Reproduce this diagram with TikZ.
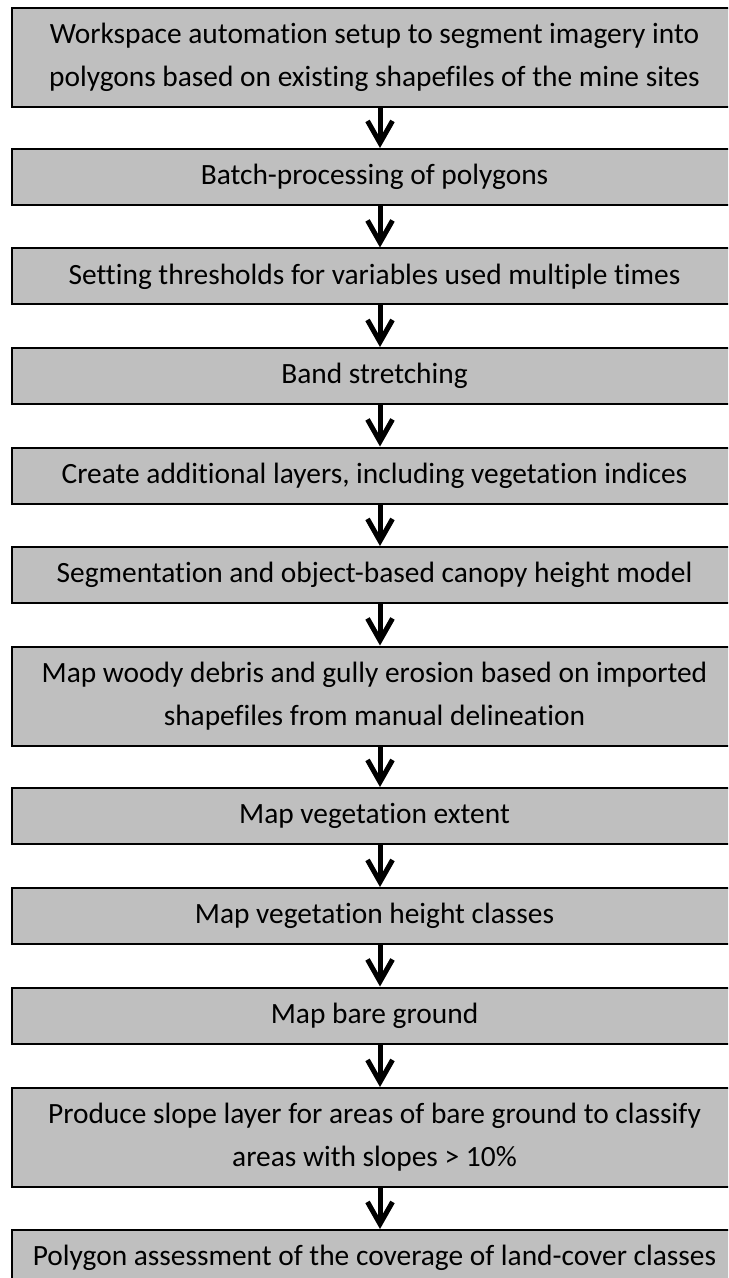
\documentclass[tikz,border=0pt]{standalone}
\usepackage{fontspec}
\setmainfont{Carlito}[Ligatures=NoCommon]
\usetikzlibrary{arrows.meta}
\begin{document}
\begin{tikzpicture}[x=0.5pt,y=-0.5pt]
    \tikzset{stepbox/.style = {draw, fill=black!25, line width=1pt, minimum width=362.5pt, minimum height=28pt, inner sep=0pt, align=center, font=\fontsize{14.7}{21.5}\selectfont}}
    \tikzset{tallbox/.style = {stepbox, minimum height=49.5pt}}
    \tikzset{flow/.style = {-{Straight Barb[length=11pt,width=12.5pt]}, line width=2.5pt}}
    \useasboundingbox (0,0) rectangle (728,1278);
    \clip (0,0) rectangle (728,1278);
    \node[tallbox] (setup) at (374.5,57.5) {Workspace automation setup to segment imagery into\\polygons based on existing shapefiles of the mine sites};
    \node[stepbox] (batch) at (374.5,177) {Batch-processing of polygons};
    \node[stepbox] (thresh) at (374.5,276.5) {Setting thresholds for variables used multiple times};
    \node[stepbox] (stretch) at (374.5,376) {Band stretching};
    \node[stepbox] (layers) at (374.5,475.5) {Create additional layers, including vegetation indices};
    \node[stepbox] (segm) at (374.5,575) {Segmentation and object-based canopy height model};
    \node[tallbox] (debris) at (374.5,696) {Map woody debris and gully erosion based on imported\\shapefiles from manual delineation};
    \node[stepbox] (extent) at (374.5,816) {Map vegetation extent};
    \node[stepbox] (height) at (374.5,916) {Map vegetation height classes};
    \node[stepbox] (bare) at (374.5,1015.5) {Map bare ground};
    \node[tallbox] (slope) at (374.5,1137.5) {Produce slope layer for areas of bare ground to classify\\areas with slopes > 10\%};
    \node[stepbox] (assess) at (374.5,1258) {Polygon assessment of the coverage of land-cover classes};
    \draw[flow] ([xshift=2.75pt]setup.south) -- ([xshift=2.75pt]batch.north);
    \draw[flow] ([xshift=2.75pt]batch.south) -- ([xshift=2.75pt]thresh.north);
    \draw[flow] ([xshift=2.75pt]thresh.south) -- ([xshift=2.75pt]stretch.north);
    \draw[flow] ([xshift=2.75pt]stretch.south) -- ([xshift=2.75pt]layers.north);
    \draw[flow] ([xshift=2.75pt]layers.south) -- ([xshift=2.75pt]segm.north);
    \draw[flow] ([xshift=2.75pt]segm.south) -- ([xshift=2.75pt]debris.north);
    \draw[flow] ([xshift=2.75pt]debris.south) -- ([xshift=2.75pt]extent.north);
    \draw[flow] ([xshift=2.75pt]extent.south) -- ([xshift=2.75pt]height.north);
    \draw[flow] ([xshift=2.75pt]height.south) -- ([xshift=2.75pt]bare.north);
    \draw[flow] ([xshift=2.75pt]bare.south) -- ([xshift=2.75pt]slope.north);
    \draw[flow] ([xshift=2.75pt]slope.south) -- ([xshift=2.75pt]assess.north);
\end{tikzpicture}
\end{document}
